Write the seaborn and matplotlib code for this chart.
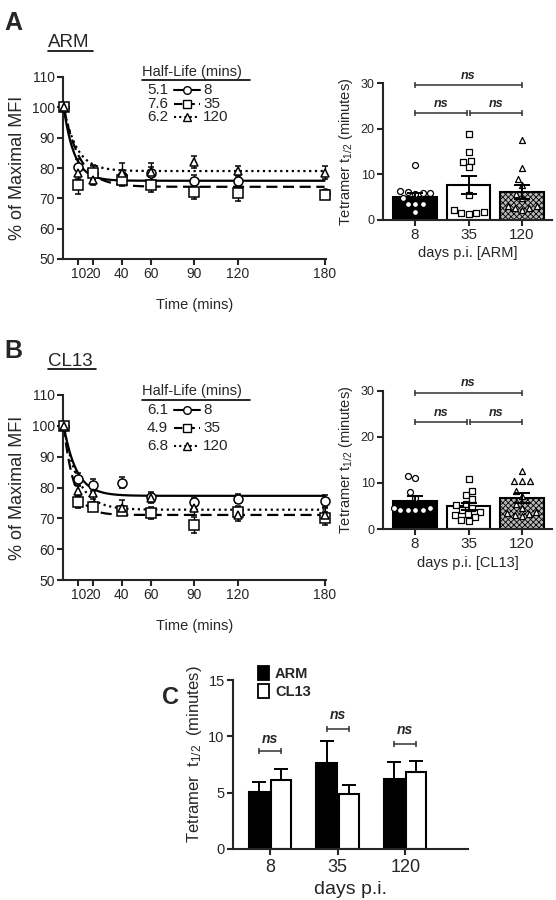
import numpy as np
import pandas as pd
import matplotlib
matplotlib.use("Agg")
import matplotlib.pyplot as plt
from matplotlib.lines import Line2D
from matplotlib.patches import Patch
import seaborn as sns

W, H = 556, 900

# time course (mins)
times = [0, 10, 20, 40, 60, 90, 120, 180]
time_ticks = [10, 20, 40, 60, 90, 120, 180]
groups = ["8", "35", "120"]

# panel A: ARM, % of maximal MFI (mean, sem)
arm_8 = [100, 80.4, 78.5, 77.4, 78.2, 75.7, 75.7, 71.7]
arm_8_sem = [0.5, 2.5, 2.3, 2.0, 2.0, 2.0, 2.0, 1.2]
arm_35 = [100, 74.5, 78.5, 76.0, 74.5, 72.0, 71.7, 71.2]
arm_35_sem = [0.5, 3.0, 2.5, 2.0, 2.5, 2.3, 2.5, 1.0]
arm_120 = [100, 78.5, 76.0, 78.5, 78.8, 82.0, 79.0, 78.5]
arm_120_sem = [0.5, 2.0, 1.5, 3.0, 3.0, 2.0, 1.8, 2.0]
arm_half_life = [5.1, 7.6, 6.2]
arm_plateau = [75.8, 73.8, 79.0]

# panel B: CL13
cl13_8 = [100, 82.6, 80.8, 81.6, 77.0, 75.2, 76.4, 75.6]
cl13_8_sem = [0.5, 2.0, 2.0, 1.8, 1.5, 1.5, 1.5, 2.0]
cl13_35 = [100, 75.2, 73.8, 72.5, 71.8, 67.8, 72.0, 70.0]
cl13_35_sem = [0.5, 2.0, 1.5, 1.5, 2.0, 2.5, 2.0, 2.0]
cl13_120 = [100, 78.8, 78.3, 73.5, 76.5, 73.2, 71.0, 71.2]
cl13_120_sem = [0.5, 2.0, 2.0, 2.5, 1.5, 2.0, 2.0, 2.0]
cl13_half_life = [6.1, 4.9, 6.8]
cl13_plateau = [77.3, 71.1, 72.8]

# tetramer t1/2 per mouse (minutes)
arm_pts_8 = [12.1, 6.3, 5.9, 6.0, 5.8, 6.2, 4.8, 3.6, 3.5, 3.4, 1.7]
arm_pts_35 = [18.9, 15.0, 13.0, 12.6, 11.5, 5.5, 2.2, 1.6, 1.3, 1.5, 1.7]
arm_pts_120 = [17.6, 11.3, 8.9, 7.6, 5.8, 4.8, 3.1, 2.6, 2.2, 2.6, 3.1]
cl13_pts_8 = [11.5, 11.0, 8.0, 6.8, 4.6, 4.2, 4.2, 4.2, 4.2, 4.6]
cl13_pts_35 = [10.8, 8.2, 7.4, 6.5, 5.5, 5.2, 4.6, 4.2, 3.8, 3.3, 3.0, 2.6, 2.0, 1.7]
cl13_pts_120 = [12.7, 10.5, 10.5, 10.5, 8.2, 7.2, 5.5, 4.5, 3.0, 2.8, 3.2, 3.5, 3.8]

arm_mean = [5.1, 7.6, 6.2]
arm_sem = [0.85, 2.0, 1.5]
cl13_mean = [6.1, 4.9, 6.8]
cl13_sem = [1.0, 0.75, 1.05]

markers = ["o", "s", "^"]
dashes = {"8": "", "35": (5, 2.5), "120": (1, 1.6)}

sns.set_theme(style="ticks")
plt.rcParams["font.family"] = ["Liberation Sans", "DejaVu Sans"]
plt.rcParams["mathtext.default"] = "regular"
plt.rcParams["axes.linewidth"] = 1.5
plt.rcParams["xtick.major.width"] = 1.5
plt.rcParams["ytick.major.width"] = 1.5
plt.rcParams["xtick.major.size"] = 4
plt.rcParams["ytick.major.size"] = 4
plt.rcParams["hatch.linewidth"] = 0.6

fig = plt.figure(figsize=(W / 100, H / 100), dpi=100)


def add_ax(x0, y0, x1, y1):
    return fig.add_axes([x0 / W, 1 - y1 / H, (x1 - x0) / W, (y1 - y0) / H])


def ftext(x, y, s, **kw):
    fig.text(x / W, 1 - y / H, s, **kw)


def fline(x0, x1, y0, y1=None, **kw):
    y1 = y0 if y1 is None else y1
    fig.add_artist(Line2D([x0 / W, x1 / W], [1 - y0 / H, 1 - y1 / H],
                          transform=fig.transFigure, color="black", **kw))


def decay_panel(ax, means, sems, half_lives, plateaus):
    t = np.linspace(0, 180, 721)
    frames = []
    for g, hl, pl in zip(groups, half_lives, plateaus):
        # one-phase decay fit shown in the original
        y = pl + (100 - pl) * np.exp(-np.log(2) / hl * t)
        frames.append(pd.DataFrame({"t": t, "y": y, "group": g}))
    curves = pd.concat(frames, ignore_index=True)
    sns.lineplot(data=curves, x="t", y="y", hue="group", style="group",
                 hue_order=groups, style_order=groups, palette=["black"] * 3,
                 dashes=dashes, linewidth=1.6, legend=False, ax=ax)
    for m, e, mk in zip(means, sems, markers):
        ax.errorbar(times, m, yerr=e, fmt=mk, mfc="white", mec="black", mew=1.1,
                    ms=6.5 if mk != "^" else 6, ecolor="black", elinewidth=1,
                    capsize=2.2, zorder=4, clip_on=False)
    ax.set_xlim(-0.5, 181)
    ax.set_ylim(50, 110)
    ax.set_xticks(time_ticks)
    ax.set_yticks(range(50, 111, 10))
    ax.tick_params(axis="both", labelsize=10, pad=2)
    ax.set_xlabel("Time (mins)", fontsize=10.5, labelpad=12)
    ax.set_ylabel("% of Maximal MFI", fontsize=13, labelpad=4)
    sns.despine(ax=ax)


def bracket(ax, x0, x1, y, ty, fs=9):
    ax.plot([x0, x1], [y, y], color="#333333", lw=1.1, marker="|", ms=5,
            mew=1.1, clip_on=False)
    ax.text((x0 + x1) / 2, ty, "ns", ha="center", va="center", fontsize=fs,
            style="italic", weight="bold", clip_on=False)


def t12_panel(ax, means, sems, points, xlabel, ns_levels):
    sns.barplot(x=groups, y=means, order=groups, palette=["black", "white", "#b8b8b8"],
                hue=groups, legend=False, edgecolor="black", linewidth=1.5,
                width=0.82, ax=ax)
    ax.patches[2].set_hatch("xxxxxx")
    for g, vals, mk in zip(groups, points, markers):
        sns.swarmplot(x=[g] * len(vals), y=vals, order=groups, marker=mk,
                      color="white", edgecolor="black", linewidth=0.9,
                      size=4.3, ax=ax, zorder=3)
    xs = [p.get_x() + p.get_width() / 2 for p in ax.patches[:3]]
    ax.errorbar(xs, means, yerr=sems, fmt="none", ecolor="black", elinewidth=1.4,
                capsize=6, capthick=1.4, zorder=5)
    top_y, top_t, low_y, low_t = ns_levels
    bracket(ax, xs[0], xs[2], top_y, top_t)
    bracket(ax, xs[0], xs[1] - 0.03, low_y, low_t)
    bracket(ax, xs[1] + 0.03, xs[2], low_y, low_t)
    ax.set_xlim(-0.6, 2.56)
    ax.set_ylim(0, 30)
    ax.set_yticks([0, 10, 20, 30])
    ax.tick_params(axis="y", labelsize=9, pad=2)
    ax.tick_params(axis="x", labelsize=11, pad=2)
    ax.set_xlabel(xlabel, fontsize=10.5, labelpad=3)
    ax.set_ylabel("Tetramer t$_{1/2}$ (minutes)", fontsize=10.5, labelpad=4)
    sns.despine(ax=ax)


def half_life_key(y_head, y_under, rows_y, half_lives):
    ftext(142, y_head, "Half-Life (mins)", fontsize=10.5, va="center")
    fline(142, 250, y_under, lw=1.2)
    for hl, g, mk, y in zip(half_lives, groups, markers, rows_y):
        ftext(147, y, f"{hl}", fontsize=11, va="center")
        ls = "-" if g == "8" else ((0, (4, 2)) if g == "35" else (0, (1, 1.5)))
        fline(174, 200, y, lw=1.5, ls=ls)
        fig.add_artist(Line2D([187 / W], [1 - y / H], transform=fig.transFigure,
                              marker=mk, ms=5.5, mfc="white", mec="black", mew=1))
        ftext(203, y, g, fontsize=11, va="center")


# ---- panel A ----
ftext(4, 30, "A", fontsize=18, weight="bold")
ftext(48, 47, "ARM", fontsize=13.5)
fline(48, 93, 51, lw=1.2)
ax_a = add_ax(63, 77, 326, 259)
decay_panel(ax_a, [arm_8, arm_35, arm_120], [arm_8_sem, arm_35_sem, arm_120_sem],
            arm_half_life, arm_plateau)
half_life_key(72, 80, [90, 103.5, 117], arm_half_life)

ax_a2 = add_ax(383, 83, 552, 220)
t12_panel(ax_a2, arm_mean, arm_sem, [arm_pts_8, arm_pts_35, arm_pts_120],
          "days p.i. [ARM]", (29.6, 31.6, 23.4, 25.4))

# ---- panel B ----
ftext(4, 358, "B", fontsize=18, weight="bold")
ftext(48, 366, "CL13", fontsize=13.5)
fline(48, 96, 369, lw=1.2)
ax_b = add_ax(63, 395, 326, 580)
decay_panel(ax_b, [cl13_8, cl13_35, cl13_120], [cl13_8_sem, cl13_35_sem, cl13_120_sem],
            cl13_half_life, cl13_plateau)
half_life_key(391, 400, [410, 428, 446], cl13_half_life)

ax_b2 = add_ax(383, 391, 552, 529)
t12_panel(ax_b2, cl13_mean, cl13_sem, [cl13_pts_8, cl13_pts_35, cl13_pts_120],
          "days p.i. [CL13]", (29.5, 31.8, 23.2, 25.2))

# ---- panel C ----
ftext(162, 704, "C", fontsize=17, weight="bold")
ax_c = add_ax(233, 680, 468, 849)
cdf = pd.DataFrame({
    "day": groups * 2,
    "t12": arm_mean + cl13_mean,
    "strain": ["ARM"] * 3 + ["CL13"] * 3,
})
sns.barplot(data=cdf, x="day", y="t12", hue="strain", order=groups,
            hue_order=["ARM", "CL13"], palette={"ARM": "black", "CL13": "white"},
            edgecolor="black", linewidth=1.5, width=0.66, gap=0.1, legend=False, ax=ax_c)
centers = []
for cont, m, e in zip(ax_c.containers, [arm_mean, cl13_mean], [arm_sem, cl13_sem]):
    xs = [b.get_x() + b.get_width() / 2 for b in cont]
    centers.append(xs)
    ax_c.errorbar(xs, m, yerr=[[0] * 3, e], fmt="none", ecolor="black",
                  elinewidth=1.4, capsize=5, capthick=1.4, zorder=1)
c_brackets = [(8.7, 9.8), (10.65, 11.9), (9.3, 10.55)]
for i, (by, ty) in enumerate(c_brackets):
    bracket(ax_c, centers[0][i], centers[1][i], by, ty, fs=10)
ax_c.set_xlim(-0.55, 2.93)
ax_c.set_ylim(0, 15)
ax_c.set_yticks([0, 5, 10, 15])
ax_c.tick_params(axis="y", labelsize=10.5, pad=2)
ax_c.tick_params(axis="x", labelsize=13, pad=3)
ax_c.set_xlabel("days p.i.", fontsize=14, labelpad=4)
ax_c.set_ylabel("Tetramer  t$_{1/2}$  (minutes)", fontsize=12)
ax_c.yaxis.set_label_coords(-0.125, 0.56)
sns.despine(ax=ax_c)
ax_c.legend(handles=[Patch(facecolor="black", edgecolor="black", lw=1.3),
                     Patch(facecolor="white", edgecolor="black", lw=1.3)],
            labels=["ARM", "CL13"], loc="upper left", bbox_to_anchor=(0.08, 1.12),
            frameon=False, prop={"weight": "bold", "size": 10.5}, handlelength=0.8,
            handleheight=1.1, handletextpad=0.4, labelspacing=0.25, borderaxespad=0)

fig.savefig("out.png", dpi=100)
